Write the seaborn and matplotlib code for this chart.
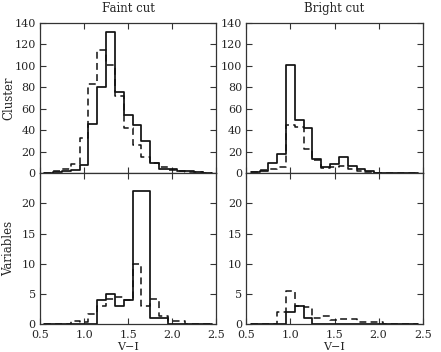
import numpy as np
import pandas as pd
import matplotlib
matplotlib.use("Agg")
import matplotlib.pyplot as plt
import seaborn as sns

# ---- data (bin centres of V-I, width 0.1) ----
centers = [0.6, 0.7, 0.8, 0.9, 1.0, 1.1, 1.2, 1.3, 1.4, 1.5,
           1.6, 1.7, 1.8, 1.9, 2.0, 2.1, 2.2, 2.3, 2.4]

faint_cluster_solid = [0, 1, 2, 3, 8, 46, 80, 131, 76, 54,
                       45, 30, 10, 4, 4, 2, 2, 1, 0]
faint_cluster_dashed = [0, 2, 4.5, 9, 33, 83, 115, 101, 72, 42,
                        26, 15, 10, 6, 3, 2, 1, 1, 0]
bright_cluster_solid = [1, 2, 10, 18, 101, 50, 42, 13, 6, 9,
                        15, 7, 4, 2.5, 0, 0, 0, 0, 0]
bright_cluster_dashed = [1, 3, 4, 6, 45, 43, 23, 12, 5, 6,
                         7, 4, 2, 1.5, 0.6, 0, 0, 0, 0]

faint_var_solid = [0, 0, 0, 0, 0, 0, 4, 5, 3, 4,
                   22, 22, 1, 1, 0, 0, 0, 0, 0]
faint_var_dashed = [0, 0, 0, 0.5, 0.3, 1.7, 3.0, 4.2, 4.4, 4.0,
                    10.0, 3.0, 4.2, 1.3, 0.5, 0.5, 0, 0, 0]
bright_var_solid = [0, 0, 0, 0, 2, 3, 1, 0, 0, 0,
                    0, 0, 0, 0, 0, 0, 0, 0, 0]
bright_var_dashed = [0, 0, 0, 2.0, 5.4, 3.0, 2.8, 1.0, 1.3, 0.6,
                     0.8, 0.8, 0.3, 0.4, 0.3, 0, 0, 0, 0]

col_titles = ["Faint cut", "Bright cut"]
row_labels = ["Cluster", "Variables"]
x_ticks = [0.5, 1.0, 1.5, 2.0, 2.5]
x_ticklabels = ["0.5", "1.0", "1.5", "2.0", "2.5"]
top_yticks = [0, 20, 40, 60, 80, 100, 120, 140]
bot_yticks = [0, 5, 10, 15, 20]

# ---- style ----
sns.set_theme(style="ticks")
plt.rcParams["font.family"] = ["DejaVu Serif"]
plt.rcParams["font.size"] = 8.5

ax_bottom_px = 324.0
ax_top_px = 22.7
panel_h = (ax_bottom_px - ax_top_px) / 2

fig = plt.figure(figsize=(4.41, 3.52), dpi=100)
fig.subplots_adjust(left=40/441, right=422.7/441, top=1-ax_top_px/352,
                    bottom=1-ax_bottom_px/352, hspace=0, wspace=30/176)
axes = fig.subplots(2, 2)

edges = [round(0.55 + 0.1 * k, 3) for k in range(len(centers) + 1)]
line_col = "#111111"

panels = [
    (axes[0, 0], faint_cluster_solid, faint_cluster_dashed),
    (axes[0, 1], bright_cluster_solid, bright_cluster_dashed),
    (axes[1, 0], faint_var_solid, faint_var_dashed),
    (axes[1, 1], bright_var_solid, bright_var_dashed),
]

for ax, solid, dashed in panels:
    df = pd.DataFrame({"VI": centers, "solid": solid, "dashed": dashed})
    sns.histplot(data=df, x="VI", weights="dashed", bins=edges,
                 element="step", fill=False, ax=ax, color=line_col,
                 linewidth=1.1, linestyle=(0, (4.5, 2.8)))
    sns.histplot(data=df, x="VI", weights="solid", bins=edges,
                 element="step", fill=False, ax=ax, color=line_col,
                 linewidth=1.25)
    ax.set_xlim(0.5, 2.5)
    ax.set_xticks(x_ticks)
    ax.tick_params(direction="in", top=True, right=True, length=4,
                   width=0.8, color="#333333")
    ax.tick_params(axis="x", pad=4, labelsize=8)
    ax.tick_params(axis="y", pad=3, labelsize=8)
    for s in ax.spines.values():
        s.set_linewidth(0.9)
        s.set_color("#333333")
    ax.set_xlabel("")
    ax.set_ylabel("")

for j in range(2):
    ax = axes[0, j]
    ax.set_ylim(0, 140)
    ax.set_yticks(top_yticks)
    ax.tick_params(labelbottom=False)
    ax.set_title(col_titles[j], fontsize=8.5, pad=8)
    ax = axes[1, j]
    ax.set_ylim(0, 25)
    ax.set_yticks(bot_yticks)
    ax.set_xticklabels(x_ticklabels)
    ax.set_xlabel("V\u2212I", fontsize=8)
    ax.xaxis.set_label_coords(0.5, -(351.8 - ax_bottom_px) / panel_h)
    ax.xaxis.label.set_va("bottom")

for i in range(2):
    ax = axes[i, 0]
    ax.set_ylabel(row_labels[i], fontsize=8.5)
    ax.yaxis.set_label_coords(-0.14, 0.5)

fig.savefig("out.png", dpi=100)
